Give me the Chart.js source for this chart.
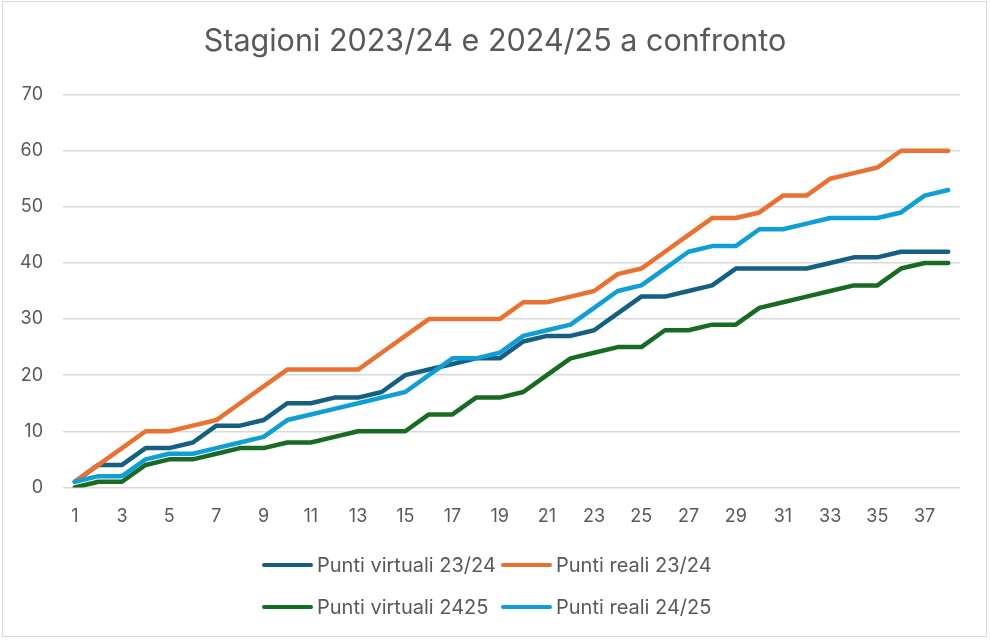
<!DOCTYPE html>
<html lang="it">
<head>
<meta charset="utf-8">
<title>Stagioni 2023/24 e 2024/25 a confronto</title>
<script src="https://cdn.jsdelivr.net/npm/chart.js@4/dist/chart.umd.min.js"></script>
<style>
  html, body { margin: 0; padding: 0; background: #fff; }
  #wrap { position: relative; width: 990px; height: 642px; }
  #frame {
    position: absolute; left: 2px; top: 1px; width: 983px; height: 634px;
    border: 1.5px solid #d9d9d9; pointer-events: none;
  }
  #box { position: absolute; left: 0; top: 0; width: 990px; height: 642px; }
  #legend {
    position: absolute; left: 262px; top: 544px;
    display: grid; grid-template-columns: 239px auto;
    font-family: Inter, sans-serif; font-size: 20px; color: #595959;
  }
  .item { display: flex; align-items: center; height: 42px; white-space: nowrap; }
  .swatch { width: 51px; height: 4.5px; border-radius: 3px; margin-right: 4px; }
</style>
</head>
<body>
<div id="wrap">
  <div id="box"><canvas id="chart"></canvas></div>
  <div id="legend"></div>
  <div id="frame"></div>
</div>
<script>
// giornate 1..38
const giornate = Array.from({ length: 38 }, (_, i) => String(i + 1));

const virtuali2324 = [1, 4, 4, 7, 7, 8, 11, 11, 12, 15, 15, 16, 16, 17, 20, 21, 22, 23, 23, 26,
  27, 27, 28, 31, 34, 34, 35, 36, 39, 39, 39, 39, 40, 41, 41, 42, 42, 42];
const reali2324 = [1, 4, 7, 10, 10, 11, 12, 15, 18, 21, 21, 21, 21, 24, 27, 30, 30, 30, 30, 33,
  33, 34, 35, 38, 39, 42, 45, 48, 48, 49, 52, 52, 55, 56, 57, 60, 60, 60];
const virtuali2425 = [0, 1, 1, 4, 5, 5, 6, 7, 7, 8, 8, 9, 10, 10, 10, 13, 13, 16, 16, 17,
  20, 23, 24, 25, 25, 28, 28, 29, 29, 32, 33, 34, 35, 36, 36, 39, 40, 40];
const reali2425 = [1, 2, 2, 5, 6, 6, 7, 8, 9, 12, 13, 14, 15, 16, 17, 20, 23, 23, 24, 27,
  28, 29, 32, 35, 36, 39, 42, 43, 43, 46, 46, 47, 48, 48, 48, 49, 52, 53];

const seriesNames = ["Punti virtuali 23/24", "Punti reali 23/24", "Punti virtuali 2425", "Punti reali 24/25"];
const seriesColors = ["#156082", "#E97132", "#196B24", "#0F9ED5"];
const seriesData = [virtuali2324, reali2324, virtuali2425, reali2425];

const font = "Inter, sans-serif";
const textColor = "#595959";

const datasets = seriesData.map((d, i) => ({
  label: seriesNames[i],
  data: d,
  borderColor: seriesColors[i],
  backgroundColor: seriesColors[i],
  borderWidth: 4.5,
  borderJoinStyle: "round",
  borderCapStyle: "round",
  pointRadius: 0,
  tension: 0,
  order: seriesData.length - i   // like Excel: last series on top
}));

const chart = new Chart(document.getElementById("chart"), {
  type: "line",
  data: { labels: giornate, datasets },
  options: {
    responsive: true,
    maintainAspectRatio: false,
    animation: false,
    layout: { padding: { top: 0, right: 0, bottom: 97, left: 0 } },
    plugins: {
      legend: { display: false },
      tooltip: { enabled: false },
      title: {
        display: true,
        text: "Stagioni 2023/24 e 2024/25 a confronto",
        color: textColor,
        font: { family: font, size: 30.5, weight: "normal" },
        padding: { top: 24, bottom: 34 }
      }
    },
    scales: {
      x: {
        offset: true,
        grid: { display: false, drawTicks: false },
        border: { display: false },
        ticks: {
          autoSkip: false,
          maxRotation: 0,
          padding: 18,
          color: textColor,
          font: { family: font, size: 18 },
          callback: function (val, idx) {
            return idx % 2 === 0 ? this.getLabelForValue(val) : "";
          }
        }
      },
      y: {
        min: 0,
        max: 70,
        grid: { color: "#d9d9d9", lineWidth: 1.5, drawTicks: false },
        border: { display: false },
        ticks: {
          stepSize: 10,
          padding: 20,
          color: textColor,
          font: { family: font, size: 18 }
        }
      },
      // empty right margin, so the title stays centred on the whole page
      spacer: {
        position: "right",
        grid: { display: false },
        border: { display: false },
        ticks: { display: false },
        afterFit: scale => { scale.width = 30; }
      }
    }
  }
});

// legenda su due righe, come nell'originale
const legendEl = document.getElementById("legend");
chart.data.datasets.forEach(ds => {
  const item = document.createElement("div");
  item.className = "item";
  const sw = document.createElement("span");
  sw.className = "swatch";
  sw.style.background = ds.borderColor;
  const txt = document.createElement("span");
  txt.textContent = ds.label;
  item.appendChild(sw);
  item.appendChild(txt);
  legendEl.appendChild(item);
});
</script>
</body>
</html>
